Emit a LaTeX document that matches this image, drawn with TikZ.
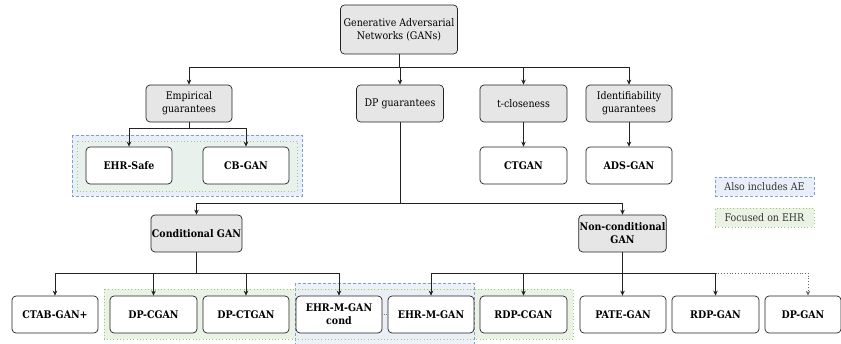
\documentclass[tikz,border=0pt]{standalone}
\usepackage{fontspec}
\setmainfont{DejaVu Serif Condensed}
\usetikzlibrary{arrows.meta}
\definecolor{bluebd}{HTML}{7F9FD4}
\definecolor{bluefill}{HTML}{E9EFF8}
\definecolor{greenbd}{HTML}{9CCB74}
\definecolor{greenfill}{HTML}{E9F2E4}
\definecolor{nodegrey}{HTML}{E6E6E6}
\definecolor{linec}{HTML}{222222}
\tikzset{
  box/.style={draw=linec, rounded corners=4pt, minimum width=86pt, minimum height=37pt,
    align=center, inner sep=1pt, line width=0.7pt, fill=white, font=\fontsize{10.5}{13}\selectfont},
  catbox/.style={box, fill=nodegrey},
  leafbox/.style={box, font=\fontsize{10.5}{13}\selectfont\bfseries},
  conn/.style={draw=linec, line width=0.7pt},
  arr/.style={conn, -{Stealth[length=5pt,width=4.5pt]}},
  bluereg/.style={draw=bluebd, dashed, dash pattern=on 3pt off 2pt, line width=0.8pt, fill=bluefill},
  greenreg/.style={draw=greenbd, dash pattern=on 0.8pt off 2.5pt, line width=0.9pt, fill=greenfill},
  legtext/.style={font=\fontsize{10.5}{12}\selectfont, text=black!80, inner sep=0pt, minimum width=99pt, minimum height=19pt}
}
\begin{document}
\begin{tikzpicture}[x=1pt,y=-1pt]
\useasboundingbox (0,0) rectangle (841,344);
% regions
\draw[bluereg] (72,135) rectangle (302,196);
\draw[greenreg, fill=greenfill!60!bluefill] (77,141) rectangle (297,191);
\draw[greenreg] (104,289) rectangle (573,339);
\draw[bluereg, fill=bluefill, fill opacity=0.8] (295,283) rectangle (474,352);
\draw[greenbd, dash pattern=on 0.8pt off 2.5pt, line width=0.9pt] (295,289) -- (474,289) (295,339) -- (474,339);
% legend
\node[legtext, bluereg] (legae) at (764.5,186.5) {Also includes AE};
\node[legtext, greenreg] (legehr) at (764.5,218) {Focused on EHR};
% nodes
\node[catbox, minimum width=117pt, minimum height=49pt] (root) at (399,29.5) {Generative Adversarial\\Networks (GANs)};
\node[catbox] (emp) at (189,103.5) {Empirical\\guarantees};
\node[catbox, minimum width=87pt] (dp) at (400,103.5) {DP guarantees};
\node[catbox, minimum width=87pt] (tc) at (523.5,103.5) {t-closeness};
\node[catbox] (idf) at (629,103.5) {Identifiability\\guarantees};
\node[leafbox] (ehrsafe) at (129,165.5) {EHR-Safe};
\node[leafbox] (cbgan) at (246,165.5) {CB-GAN};
\node[leafbox, minimum width=87pt] (ctgan) at (523.5,165.5) {CTGAN};
\node[leafbox] (adsgan) at (629,165.5) {ADS-GAN};
\node[catbox, minimum width=87pt, font=\fontsize{10.5}{13}\selectfont\bfseries] (cond) at (196.5,233.5) {Conditional GAN};
\node[catbox, minimum width=87pt, font=\fontsize{10.5}{13}\selectfont\bfseries] (ncond) at (622.5,233.5) {Non-conditional\\GAN};
\node[leafbox] (ctab) at (55,314.5) {CTAB-GAN+};
\node[leafbox, minimum width=87pt] (dpcgan) at (153.5,314.5) {DP-CGAN};
\node[leafbox] (dpctgan) at (246,314.5) {DP-CTGAN};
\node[leafbox] (ehrmc) at (339,314.5) {EHR-M-GAN\\cond};
\node[leafbox] (ehrm) at (431,314.5) {EHR-M-GAN};
\node[leafbox, minimum width=87pt] (rdpcgan) at (523.5,314.5) {RDP-CGAN};
\node[leafbox] (pategan) at (623,314.5) {PATE-GAN};
\node[leafbox, minimum width=87pt] (rdpgan) at (715.5,314.5) {RDP-GAN};
\node[leafbox, minimum width=76pt] (dpgan) at (803,314.5) {DP-GAN};
% connectors level 1
\coordinate (rj) at (399,67);
\draw[conn] (root.south) -- (rj);
\draw[arr] (rj) -| (emp.north);
\draw[arr] (dp.north |- rj) -- (dp.north);
\draw[arr] (rj) -| (tc.north);
\draw[arr] (rj) -| (idf.north);
\draw[arr] (tc.south) -- (ctgan.north);
\draw[arr] (idf.south) -- (adsgan.north);
% empirical
\coordinate (ej) at (189,128);
\draw[conn] (emp.south) -- (ej);
\draw[arr] (ej) -| (ehrsafe.north);
\draw[arr] (ej) -| (cbgan.north);
% dp
\coordinate (dj) at (400,203);
\draw[conn] (dp.south) -- (dj);
\draw[arr] (dj) -| (cond.north);
\draw[arr] (dj) -| (ncond.north);
% conditional
\coordinate (cj) at (196.5,273);
\draw[conn, line width=1.2pt] (cond.south) -- (cj);
\draw[arr] (cj) -| (ctab.north);
\draw[arr] (cj) -| (dpcgan.north);
\draw[arr] (cj) -| (dpctgan.north);
\draw[arr] (cj) -| (ehrmc.north);
% non conditional
\coordinate (nj) at (622.5,273);
\coordinate (nd) at (715.5,273);
\draw[conn, line width=1.2pt] (ncond.south) -- (nj);
\draw[arr] (nj) -| (ehrm.north);
\draw[arr] (nj) -| (rdpcgan.north);
\draw[arr] (nj) -- (nj |- pategan.north);
\draw[arr] (nj) -| (rdpgan.north);
\draw[draw=black!60, dotted, line width=0.8pt, -{Stealth[length=5pt,width=4.5pt]}] (nd) -| ([xshift=5pt]dpgan.north);
% link between EHR-M-GAN variants
\draw[black!50, dash pattern=on 1pt off 1pt, line width=0.6pt] (ehrmc.east) -- (ehrm.west);
\end{tikzpicture}
\end{document}
